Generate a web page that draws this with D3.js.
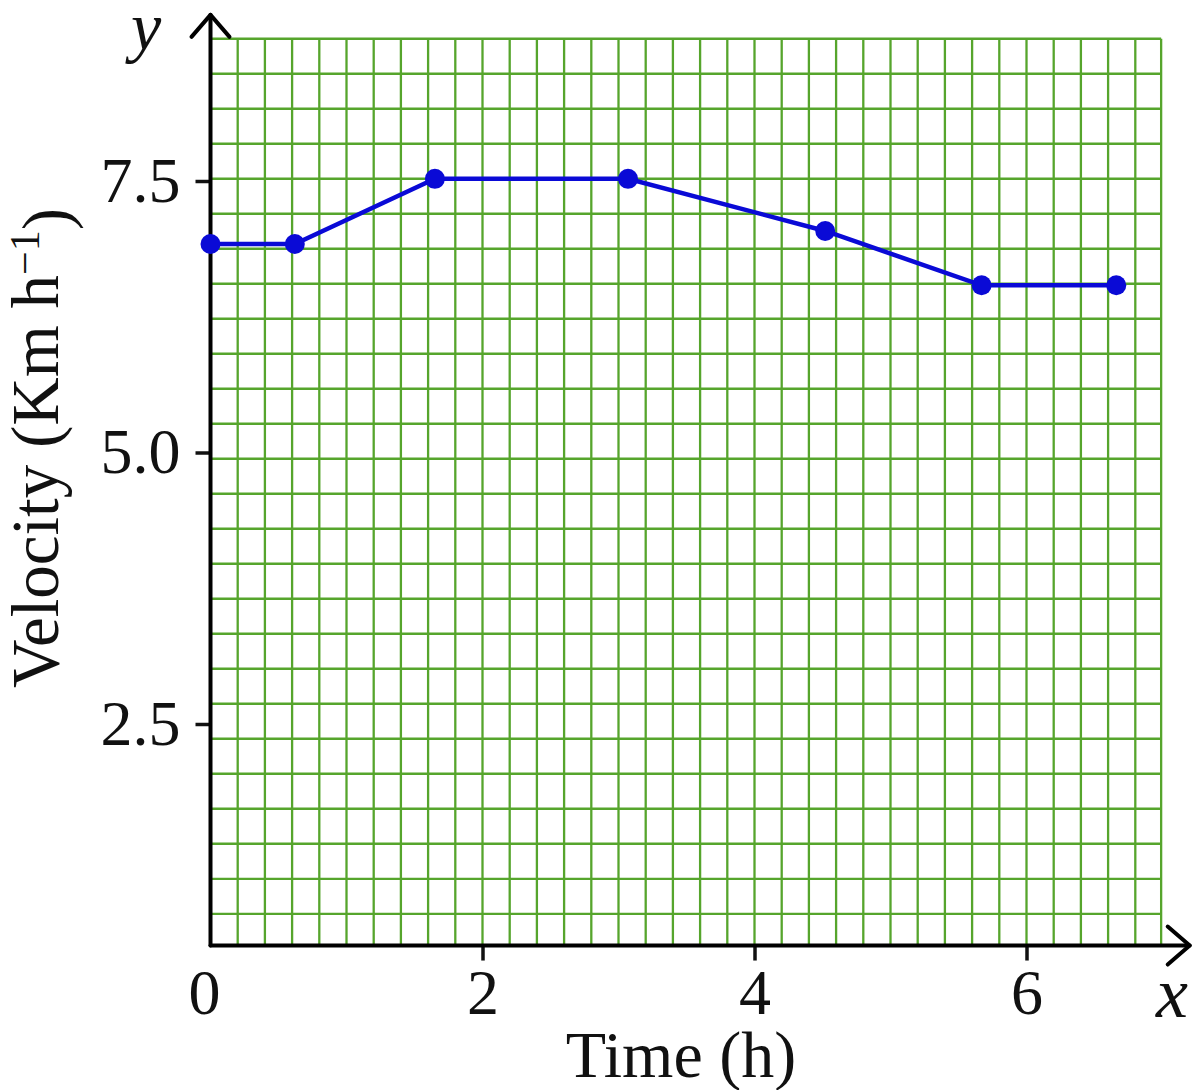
<!DOCTYPE html>
<html>
<head>
<meta charset="utf-8">
<script src="https://cdn.jsdelivr.net/npm/d3@7"></script>
<style>
  body { margin: 0; background: #fff; }
  svg { display: block; }
</style>
</head>
<body>
<figure id="chart" style="margin:0"></figure>
<script>
// time (h) and velocity (Km h^-1)
const times = [0, 0.62, 1.65, 3.07, 4.52, 5.67, 6.66];
const velocities = [6.92, 6.92, 7.52, 7.52, 7.04, 6.54, 6.54];

const xTicks = [0, 2, 4, 6];
const yTicks = [2.5, 5.0, 7.5];

// extent of the graph paper and the axes, in data units
const xGridStep = 0.2, xGridMax = 6.99, xAxisMax = 7.2;
const yGridStep = 0.3223, yGridTop = 8.81, yAxisMin = 0.46, yAxisMax = 9.03;

const width = 1200, height = 1090;
const serif = "'Liberation Serif', 'Times New Roman', serif";

const svg = d3.select("#chart")
  .append("svg")
  .attr("width", width)
  .attr("height", height);

const x = d3.scaleLinear().domain([0, 6]).range([210.5, 1026.5]);
const y = d3.scaleLinear().domain([2.5, 7.5]).range([724, 181]);

// graph paper
const grid = svg.append("g")
  .attr("stroke", "#56a52c")
  .attr("stroke-width", 2.3);

const xLines = d3.range(1, Math.floor(xGridMax / xGridStep) + 1).map(i => i * xGridStep);
xLines.push(xGridMax);
grid.selectAll("line.v")
  .data(xLines)
  .enter()
  .append("line")
  .attr("class", "v")
  .attr("x1", d => x(d)).attr("x2", d => x(d))
  .attr("y1", y(yAxisMin)).attr("y2", y(yGridTop));

const yLines = d3.range(0, 40).map(i => yGridTop - i * yGridStep).filter(v => v > yAxisMin + 0.05);
grid.selectAll("line.h")
  .data(yLines)
  .enter()
  .append("line")
  .attr("class", "h")
  .attr("x1", x(0)).attr("x2", x(xGridMax))
  .attr("y1", d => y(d)).attr("y2", d => y(d));

// axes (ticks and labels)
const xAxis = svg.append("g")
  .attr("transform", "translate(0," + y(yAxisMin) + ")")
  .call(d3.axisBottom(x).tickValues(xTicks).tickSize(15).tickPadding(8).tickFormat(d3.format("d")));
const yAxis = svg.append("g")
  .attr("transform", "translate(" + x(0) + ",0)")
  .call(d3.axisLeft(y).tickValues(yTicks).tickSize(15).tickPadding(15).tickFormat(d3.format(".1f")));

[xAxis, yAxis].forEach(g => {
  g.select(".domain").remove();
  g.selectAll(".tick line").attr("stroke", "#111").attr("stroke-width", 3.5);
  g.selectAll(".tick text")
    .attr("fill", "#111")
    .style("font-family", serif)
    .style("font-size", "64px");
});
xAxis.selectAll(".tick line").filter(d => d === 0).remove();
xAxis.selectAll(".tick text").filter(d => d === 0).attr("dx", "-0.1em");

// axis lines with open arrow heads
const axes = svg.append("g")
  .attr("fill", "none")
  .attr("stroke", "#000")
  .attr("stroke-width", 4)
  .attr("stroke-linecap", "round")
  .attr("stroke-linejoin", "round");

axes.append("line")
  .attr("x1", x(0)).attr("y1", y(yAxisMin))
  .attr("x2", x(xAxisMax)).attr("y2", y(yAxisMin));
axes.append("line")
  .attr("x1", x(0)).attr("y1", y(yAxisMin))
  .attr("x2", x(0)).attr("y2", y(yAxisMax));

const xe = x(xAxisMax), ye = y(yAxisMax);
axes.append("path")
  .attr("d", `M${xe - 22},${y(yAxisMin) - 19}L${xe},${y(yAxisMin)}L${xe - 22},${y(yAxisMin) + 19}`);
axes.append("path")
  .attr("d", `M${x(0) - 19},${ye + 22}L${x(0)},${ye}L${x(0) + 19},${ye + 22}`);

// velocity line and points
const pts = times.map((t, i) => ({ t: t, v: velocities[i] }));

svg.append("path")
  .datum(pts)
  .attr("fill", "none")
  .attr("stroke", "#0a0ad6")
  .attr("stroke-width", 4.5)
  .attr("d", d3.line().x(d => x(d.t)).y(d => y(d.v)));

svg.selectAll("circle.pt")
  .data(pts)
  .enter()
  .append("circle")
  .attr("class", "pt")
  .attr("cx", d => x(d.t))
  .attr("cy", d => y(d.v))
  .attr("r", 10)
  .attr("fill", "#0a0ad6");

// titles
svg.append("text")
  .attr("x", 681).attr("y", 1077)
  .attr("text-anchor", "middle")
  .style("font-family", serif)
  .style("font-size", "66px")
  .attr("fill", "#111")
  .text("Time (h)");

const yTitle = svg.append("text")
  .attr("transform", "translate(58,448) rotate(-90)")
  .attr("text-anchor", "middle")
  .style("font-family", serif)
  .style("font-size", "67px")
  .attr("fill", "#111");
yTitle.append("tspan").text("Velocity (Km h");
yTitle.append("tspan").attr("dy", "-0.45em").style("font-size", "42px").text("\u22121");
yTitle.append("tspan").attr("dy", "0.45em").text(")");

svg.append("text")
  .attr("x", 146).attr("y", 50)
  .attr("text-anchor", "middle")
  .style("font-family", serif)
  .style("font-style", "italic")
  .style("font-size", "68px")
  .attr("fill", "#111")
  .text("y");

svg.append("text")
  .attr("x", 1172).attr("y", 1017)
  .attr("text-anchor", "middle")
  .style("font-family", serif)
  .style("font-style", "italic")
  .style("font-size", "72px")
  .attr("fill", "#111")
  .text("x");
</script>
</body>
</html>
